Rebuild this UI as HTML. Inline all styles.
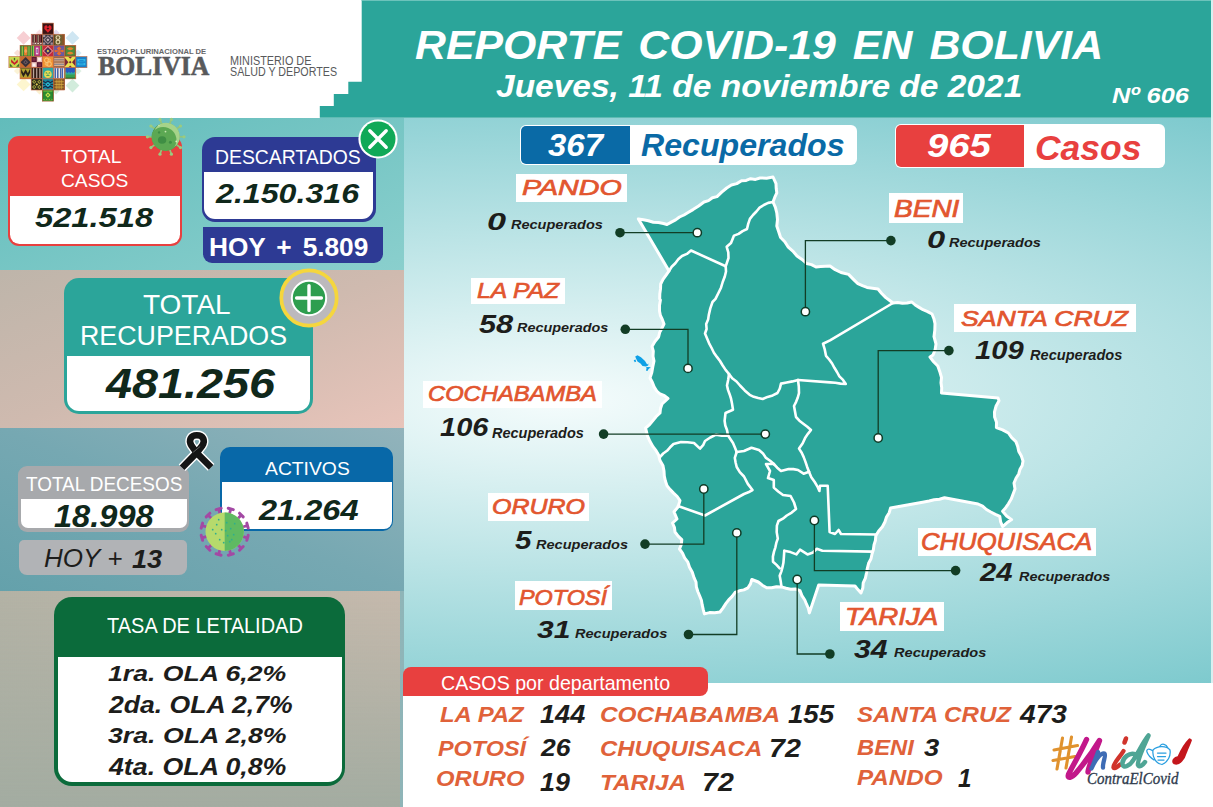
<!DOCTYPE html>
<html lang="es"><head><meta charset="utf-8"><title>Reporte COVID-19 en Bolivia</title>
<style>
html,body{margin:0;padding:0;overflow:hidden}
body{width:1213px;height:807px;position:relative;overflow:hidden;background:#fff;font-family:"Liberation Sans",sans-serif}
.a{position:absolute}
.t{position:absolute;white-space:pre;line-height:1;transform-origin:0 0}
.lbl{position:absolute;background:#fff}
</style></head><body>
<!-- left panel bands -->
<div class="a" style="left:0;top:117.7px;width:404px;height:152px;background:linear-gradient(to bottom right,rgb(98,188,187),rgb(138,207,205))"></div>
<div class="a" style="left:0;top:269.6px;width:404px;height:158.2px;background:linear-gradient(to bottom right,rgb(190,181,170),rgb(207,186,175) 50%,rgb(232,196,186))"></div>
<div class="a" style="left:0;top:427.7px;width:404px;height:379.3px;background:linear-gradient(to right,rgb(100,161,171),rgb(143,181,184))"></div>
<div class="a" style="left:0;top:427.7px;width:404px;height:163.8px;background:linear-gradient(to top right,rgb(100,161,171),rgb(118,168,178) 50%,rgb(146,179,187))"></div>
<div class="a" style="left:0;top:591.4px;width:400.2px;height:215.6px;background:linear-gradient(to bottom,rgba(163,172,161,0) 0%,rgba(163,172,161,1) 100%),linear-gradient(to right,rgb(179,178,165),rgb(197,185,172))"></div>
<!-- main panel -->
<div class="a" style="left:404px;top:117.5px;width:807px;height:565.5px;background:radial-gradient(ellipse 1170px 340px at 156px 282.5px,#f5fcfc 0%,#7ecace 100%)"></div>
<!-- bottom white -->
<div class="a" style="left:402.8px;top:682.5px;width:810.2px;height:124.5px;background:#fff"></div>
<div class="a" style="left:1211px;top:0;width:2px;height:682.5px;background:#d8f0f0"></div>
<!-- header -->
<svg class="a" style="left:0;top:0" width="1213" height="118" viewBox="0 0 1213 118"><path d="M361.7,0H1211V117.7H319.8V105.9H333.8V94H348.3V81.8H361.7Z" fill="#2ba59a"/><rect x="361.7" y="0" width="849.3" height="1" fill="#6cc3bb"/></svg>
<!-- banners -->
<div class="a" style="left:520.4px;top:125.4px;width:336.3px;height:40.1px;background:#fff;border-radius:6px"></div>
<div class="a" style="left:521.4px;top:126.4px;width:108.8px;height:38.1px;background:#0a6aa6;border-radius:5px 0 0 5px"></div>
<div class="a" style="left:895px;top:124.1px;width:269.7px;height:44.4px;background:#fff;border-radius:6px"></div>
<div class="a" style="left:896px;top:125.1px;width:127.6px;height:42.4px;background:#e8403f;border-radius:5px 0 0 5px"></div>
<!-- label boxes -->
<div class="lbl" style="left:515.8px;top:173.5px;width:111.5px;height:28px"></div>
<div class="lbl" style="left:471px;top:277.6px;width:93.8px;height:26.8px"></div>
<div class="lbl" style="left:423.4px;top:381px;width:178.4px;height:27px"></div>
<div class="lbl" style="left:488px;top:493.4px;width:100.5px;height:27.2px"></div>
<div class="lbl" style="left:514.5px;top:580.7px;width:97px;height:29.6px"></div>
<div class="lbl" style="left:889.2px;top:193px;width:74.2px;height:29.5px"></div>
<div class="lbl" style="left:953.7px;top:304.1px;width:182.3px;height:28.3px"></div>
<div class="lbl" style="left:918.2px;top:527.9px;width:177.6px;height:27.9px"></div>
<div class="lbl" style="left:839.8px;top:602px;width:103.9px;height:29.2px"></div>
<!-- red tab -->
<div class="a" style="left:402.8px;top:666.9px;width:305.4px;height:29.5px;background:#e8403f;border-radius:8px 8px 8px 0"></div>
<!-- MAP -->
<svg class="a" style="left:0;top:0" width="1213" height="807" viewBox="0 0 1213 807">
<polygon points="638.4,218.9 643.4,219.7 648.4,220.8 653.3,222.3 658.5,222.5 663.5,223.5 667.0,224.5 671.3,222.1 675.6,219.9 679.5,217.0 684.0,215.0 688.5,212.3 693.0,209.6 698.6,206.0 704.0,202.0 708.5,200.6 712.4,197.8 717.0,196.6 721.7,192.1 726.7,188.0 731.4,185.0 736.8,183.6 741.5,180.8 746.2,180.4 750.6,178.7 755.5,179.4 760.0,178.0 766.6,178.2 773.0,177.0 776.0,183.6 776.2,188.3 776.8,192.9 774.7,197.4 773.0,202.0 775.4,207.3 776.8,213.0 777.5,219.5 776.8,226.0 778.7,231.8 780.6,237.5 784.8,241.7 788.0,246.8 792.8,251.1 797.0,256.0 802.0,259.4 806.6,263.5 811.5,264.6 816.0,267.0 820.7,266.6 825.3,266.2 830.0,266.0 835.2,269.7 841.0,272.5 848.6,274.4 853.2,279.1 857.9,283.7 862.4,285.7 867.0,287.4 872.5,288.2 878.0,289.0 881.7,293.5 885.8,297.6 889.4,300.2 893.0,303.0 897.7,302.4 902.4,303.2 907.1,303.0 911.8,302.0 915.2,305.0 919.1,307.4 923.0,309.7 927.6,311.6 932.0,314.0 933.9,318.7 935.0,323.6 934.8,330.2 934.0,336.7 936.0,344.0 935.1,349.7 933.0,355.0 930.0,357.0 933.6,361.8 937.8,366.0 939.8,371.7 941.5,377.5 941.0,382.7 941.7,387.8 941.5,393.0 998.0,397.9 999.0,400.7 996.1,406.0 994.5,411.8 994.6,417.1 996.5,422.2 996.4,427.6 1002.6,429.9 1008.4,433.0 1011.7,437.7 1015.9,441.6 1017.7,446.4 1018.8,451.5 1021.4,456.1 1023.0,461.0 1022.2,465.5 1019.9,469.6 1018.7,474.0 1016.0,478.3 1014.0,483.0 1015.0,489.0 1013.1,494.1 1011.2,499.1 1008.4,503.8 1005.7,507.7 1002.6,511.3 1006.6,516.0 1011.6,519.6 1006.9,522.8 1002.6,526.6 1000.6,521.7 999.8,516.4 995.3,514.3 990.8,512.0 986.4,509.5 982.6,506.1 978.0,504.0 944.5,497.7 939.5,499.2 934.2,499.8 929.1,501.0 924.0,502.0 890.6,507.9 889.2,512.7 886.5,517.0 885.0,521.8 882.4,526.8 878.7,531.0 875.8,535.8 875.4,540.5 874.0,544.9 873.4,549.5 872.0,554.0 871.0,558.8 868.6,563.3 867.4,568.1 866.5,573.0 865.4,578.1 863.2,582.8 862.8,588.1 861.0,593.0 857.9,589.6 855.0,586.0 818.7,585.0 809.4,612.9 808.4,608.4 806.5,604.2 804.8,600.0 801.9,595.6 800.0,590.6 795.5,589.0 790.7,589.2 786.1,588.2 781.5,586.9 776.5,586.8 771.6,587.8 766.7,587.8 762.3,585.2 758.3,582.0 751.8,579.5 750.5,583.9 748.0,587.8 743.9,589.9 739.3,590.8 735.0,592.5 732.2,596.4 728.7,599.8 725.8,603.6 723.1,607.9 720.0,612.0 714.8,612.7 709.5,612.6 704.4,613.9 703.2,609.4 702.2,604.9 701.4,600.3 699.7,596.0 697.8,591.5 696.4,587.0 696.0,582.0 694.0,577.6 692.3,572.2 689.5,567.2 687.7,561.8 684.6,557.8 682.5,553.1 679.5,549.0 681.3,544.5 681.8,539.7 678.1,536.2 675.0,532.0 674.4,527.3 672.5,523.0 677.0,519.0 674.0,511.8 678.0,507.0 680.0,500.6 677.2,496.5 673.6,493.1 670.2,489.6 667.0,485.8 665.4,481.0 664.3,476.1 664.0,471.0 662.9,465.4 660.0,460.5 658.6,455.0 656.1,450.7 653.0,446.7 649.9,441.3 647.4,435.6 645.6,428.0 649.6,424.6 652.9,420.6 656.2,416.5 660.0,413.0 660.5,408.4 662.0,404.0 668.0,398.5 664.4,395.7 660.1,394.0 656.7,391.0 654.1,386.9 652.3,382.3 650.0,378.0 651.8,372.5 652.8,366.7 654.0,361.0 653.0,356.2 653.3,351.2 652.0,346.5 654.9,341.5 658.6,337.0 659.7,332.4 661.9,328.2 664.0,324.0 662.4,319.7 660.4,315.5 659.5,311.0 659.5,305.5 660.4,300.0 659.7,298.8 659.8,293.9 660.5,288.9 660.7,284.0 663.0,279.4 666.1,275.2 669.0,271.0" fill="#2ba59a" stroke="#fff" stroke-width="3.0" stroke-linejoin="round"/>
<polyline points="773.0,202.0 768.2,202.9 763.8,205.0 759.6,207.7 756.4,211.5 753.0,215.0 749.9,218.9 748.2,223.9 747.0,229.0 742.6,231.1 738.6,233.9 734.0,235.6 731.0,243.0 726.7,246.8 728.3,252.3 728.5,258.0 725.7,266.3" fill="none" stroke="#fff" stroke-width="2.6" stroke-linejoin="round" stroke-linecap="round"/>
<polyline points="725.7,266.3 691.0,250.5 686.9,253.9 682.0,256.0 678.3,259.3 675.3,263.3 671.7,266.8 669.0,271.0" fill="none" stroke="#fff" stroke-width="2.6" stroke-linejoin="round" stroke-linecap="round"/>
<polyline points="725.7,266.3 726.0,271.5 724.8,276.5 722.7,282.0 721.0,287.7 718.3,293.3 715.5,298.8 712.5,302.0 710.3,308.4 708.8,314.9 708.1,319.6 706.2,324.1 706.6,329.0 705.0,333.5 707.1,338.4 709.1,343.3 711.6,348.0 713.9,352.7 716.9,356.9 720.0,361.0 722.7,365.5 725.6,369.9 729.0,374.0" fill="none" stroke="#fff" stroke-width="2.6" stroke-linejoin="round" stroke-linecap="round"/>
<polyline points="729.0,374.0 732.2,378.3 736.5,381.5 740.0,385.5 744.7,390.4 749.7,394.8 753.8,396.8 758.2,398.1 762.7,399.0 767.6,396.9 772.7,395.4 777.5,393.0 779.8,388.5 781.0,383.6 786.7,382.5 792.4,381.4 798.0,380.0" fill="none" stroke="#fff" stroke-width="2.6" stroke-linejoin="round" stroke-linecap="round"/>
<polyline points="798.0,380.0 830.0,382.4 835.3,382.8 840.5,383.6 845.8,384.0 843.0,379.9 839.4,376.4 837.0,372.0 834.4,367.8 832.1,363.5 829.2,359.5 826.0,355.8 824.8,349.7 823.0,343.7 830.0,340.4 893.0,303.0" fill="none" stroke="#fff" stroke-width="2.6" stroke-linejoin="round" stroke-linecap="round"/>
<polyline points="729.0,374.0 728.2,379.8 727.0,385.5 728.0,389.9 729.6,394.2 731.0,398.5 732.1,404.1 733.0,409.7 725.5,413.0 724.6,420.8 725.3,425.5 727.0,430.0 728.0,435.6" fill="none" stroke="#fff" stroke-width="2.6" stroke-linejoin="round" stroke-linecap="round"/>
<polyline points="728.0,435.6 721.9,435.7 716.0,434.6 710.3,437.5 705.0,441.0 703.1,445.2 700.0,448.6 694.0,443.0 687.5,442.3 681.0,442.0 673.5,444.0 670.1,447.3 667.0,450.8 663.2,453.5 660.0,457.0" fill="none" stroke="#fff" stroke-width="2.6" stroke-linejoin="round" stroke-linecap="round"/>
<polyline points="728.0,435.6 733.0,443.0 734.9,447.5 736.7,452.0" fill="none" stroke="#fff" stroke-width="2.6" stroke-linejoin="round" stroke-linecap="round"/>
<polyline points="736.7,452.0 734.8,457.9 735.6,462.5 736.7,467.0 739.8,472.1 744.0,476.5 747.8,483.9 752.5,490.0 748.4,492.3 744.0,494.0 705.0,515.5 678.0,506.0" fill="none" stroke="#fff" stroke-width="2.6" stroke-linejoin="round" stroke-linecap="round"/>
<polyline points="736.7,452.0 744.0,451.0 751.5,447.7 759.0,450.0 763.0,453.5 766.0,457.9 770.1,460.7 773.8,464.0" fill="none" stroke="#fff" stroke-width="2.6" stroke-linejoin="round" stroke-linecap="round"/>
<polyline points="773.8,464.0 766.0,464.0 770.0,471.0 768.0,478.0 773.8,480.0 773.8,487.6 778.2,491.5 783.0,495.0 790.6,496.0 794.0,502.5 796.0,509.0 791.7,512.6 786.8,515.5 782.9,518.7 778.5,521.0 776.9,525.6 776.7,532.1 777.8,538.6 776.3,542.9 775.4,547.3 774.0,551.6 772.9,556.6 773.0,561.8 776.5,564.9 779.7,568.3" fill="none" stroke="#fff" stroke-width="2.6" stroke-linejoin="round" stroke-linecap="round"/>
<polyline points="773.8,464.0 777.2,467.7 781.0,471.0 788.7,469.0 793.4,469.1 798.0,470.0 803.6,473.7 809.0,471.8" fill="none" stroke="#fff" stroke-width="2.6" stroke-linejoin="round" stroke-linecap="round"/>
<polyline points="809.0,471.8 807.1,466.7 805.4,461.6 803.7,457.1 801.7,452.7 799.0,448.6 802.7,443.3 805.4,437.4 808.1,433.6 811.0,430.0 807.3,426.7 803.3,423.7 799.4,420.7 796.0,417.0 795.0,411.5 794.0,406.0 796.1,401.8 797.8,397.5 799.0,393.0 798.8,386.5 798.0,380.0" fill="none" stroke="#fff" stroke-width="2.6" stroke-linejoin="round" stroke-linecap="round"/>
<polyline points="809.0,471.8 811.3,477.2 814.7,482.0 817.3,486.3 819.4,491.0 820.0,485.8 827.7,485.8 829.6,532.0 835.0,534.0 838.6,530.0 841.0,534.0 876.0,534.5" fill="none" stroke="#fff" stroke-width="2.6" stroke-linejoin="round" stroke-linecap="round"/>
<polyline points="784.3,550.7 790.5,552.1 796.4,554.4 800.0,549.7 807.5,554.4 813.0,552.5 816.8,548.8 822.4,550.7 872.5,551.6" fill="none" stroke="#fff" stroke-width="2.6" stroke-linejoin="round" stroke-linecap="round"/>
<polyline points="784.3,550.7 783.9,556.8 783.4,562.8 782.5,567.2 781.3,571.6 779.7,575.8 780.7,581.3 781.5,586.9" fill="none" stroke="#fff" stroke-width="2.6" stroke-linejoin="round" stroke-linecap="round"/>
<path d="M635.2,356.6 L637.5,355.3 L641,357.2 L645,361 L647.2,364.4 L648.4,363.6 L648.2,365.4 L646,366.4 L642.5,366 L640.5,363.6 L637.5,361.6 L636,358.6 Z M633.7,360.2 L635.4,359.4 L636.2,361.4 L634.8,362.2 Z M645.8,367.6 L647.6,366.9 L650.8,367.3 L648.6,369 L647.4,370.9 L645.9,370.4 L646.6,368.6 Z" fill="#0fa0e6"/>
<polyline points="620.0,232.7 697.3,232.7" fill="none" stroke="#123d25" stroke-width="1.3"/>
<circle cx="620" cy="232.7" r="4.8" fill="#123d25"/>
<circle cx="697.3" cy="232.7" r="4.15" fill="#fff" stroke="#0f3b27" stroke-width="1.5"/>
<polyline points="625.3,329.3 688.0,329.3 688.0,368.4" fill="none" stroke="#123d25" stroke-width="1.3"/>
<circle cx="625.3" cy="329.3" r="4.8" fill="#123d25"/>
<circle cx="688" cy="368.4" r="4.15" fill="#fff" stroke="#0f3b27" stroke-width="1.5"/>
<polyline points="603.6,434.1 765.3,434.1" fill="none" stroke="#123d25" stroke-width="1.3"/>
<circle cx="603.6" cy="434.1" r="4.8" fill="#123d25"/>
<circle cx="765.3" cy="434.1" r="4.15" fill="#fff" stroke="#0f3b27" stroke-width="1.5"/>
<polyline points="645.0,544.1 703.8,544.1 703.8,489.0" fill="none" stroke="#123d25" stroke-width="1.3"/>
<circle cx="645" cy="544.1" r="4.8" fill="#123d25"/>
<circle cx="703.8" cy="489" r="4.15" fill="#fff" stroke="#0f3b27" stroke-width="1.5"/>
<polyline points="688.5,634.5 736.8,634.5 736.8,532.9" fill="none" stroke="#123d25" stroke-width="1.3"/>
<circle cx="688.5" cy="634.5" r="4.8" fill="#123d25"/>
<circle cx="736.8" cy="532.9" r="4.15" fill="#fff" stroke="#0f3b27" stroke-width="1.5"/>
<polyline points="890.9,240.6 805.4,240.6 805.4,311.7" fill="none" stroke="#123d25" stroke-width="1.3"/>
<circle cx="890.9" cy="240.6" r="4.8" fill="#123d25"/>
<circle cx="805.4" cy="311.7" r="4.15" fill="#fff" stroke="#0f3b27" stroke-width="1.5"/>
<polyline points="948.9,350.6 878.2,350.6 878.2,438.0" fill="none" stroke="#123d25" stroke-width="1.3"/>
<circle cx="948.9" cy="350.6" r="4.8" fill="#123d25"/>
<circle cx="878.2" cy="438" r="4.15" fill="#fff" stroke="#0f3b27" stroke-width="1.5"/>
<polyline points="955.6,570.6 814.4,570.6 814.4,520.5" fill="none" stroke="#123d25" stroke-width="1.3"/>
<circle cx="955.6" cy="570.6" r="4.8" fill="#123d25"/>
<circle cx="814.4" cy="520.5" r="4.15" fill="#fff" stroke="#0f3b27" stroke-width="1.5"/>
<polyline points="829.9,654.0 797.2,654.0 797.2,579.5" fill="none" stroke="#123d25" stroke-width="1.3"/>
<circle cx="829.9" cy="654" r="4.8" fill="#123d25"/>
<circle cx="797.2" cy="579.5" r="4.15" fill="#fff" stroke="#0f3b27" stroke-width="1.5"/>
</svg>
<!-- LEFT BOXES -->
<!-- total casos -->
<div class="a" style="left:7.9px;top:135.8px;width:174.5px;height:110px;background:#e8403f;border-radius:11px"></div>
<div class="a" style="left:9.9px;top:195.6px;width:170.5px;height:48.2px;background:#fff;border-radius:0 0 9.5px 9.5px"></div>
<!-- descartados -->
<div class="a" style="left:201.5px;top:137.1px;width:174.4px;height:84.6px;background:#2d3a94;border-radius:13px"></div>
<div class="a" style="left:204.2px;top:171.6px;width:168.8px;height:47.7px;background:#fff;border-radius:0 0 11px 11px"></div>
<div class="a" style="left:203px;top:227.3px;width:180.3px;height:36.2px;background:#2d3a94;border-radius:0 0 9px 9px"></div>
<!-- total recuperados -->
<div class="a" style="left:64px;top:278px;width:248.7px;height:136.3px;background:#2ba59a;border-radius:15px"></div>
<div class="a" style="left:66.5px;top:355.6px;width:243.9px;height:55.2px;background:#fff;border-radius:0 0 12px 12px"></div>
<!-- decesos -->
<div class="a" style="left:18.2px;top:466.3px;width:171px;height:65.3px;background:#a7a9ac;border-radius:9px"></div>
<div class="a" style="left:20.6px;top:498.6px;width:166.9px;height:29.8px;background:#fff;border-radius:0 0 7px 7px"></div>
<div class="a" style="left:18.6px;top:539.7px;width:168.2px;height:35.5px;background:#b1b3b6;border-radius:5px 5px 8px 8px"></div>
<!-- activos -->
<div class="a" style="left:219.8px;top:447px;width:173.5px;height:83.7px;background:#0868a8;border-radius:10px"></div>
<div class="a" style="left:222.2px;top:481.6px;width:170.2px;height:47px;background:#fff;border-radius:0 0 8px 8px"></div>
<!-- tasa -->
<div class="a" style="left:54px;top:596.9px;width:291.4px;height:189.1px;background:#0b6b3b;border-radius:18px"></div>
<div class="a" style="left:57.5px;top:657px;width:284px;height:125px;background:#fff;border-radius:0 0 14px 14px"></div>
<!-- ICONS -->
<svg class="a" style="left:0;top:0" width="100" height="117" viewBox="0 0 100 117">
<path d="M23.6,31.0L30.5,37.9L23.6,44.8L16.700000000000003,37.9Z" fill="#f7cfd3"/>
<path d="M72.5,31.0L79.4,37.9L72.5,44.8L65.6,37.9Z" fill="#cfe6f2"/>
<path d="M23.6,77.5L30.5,84.4L23.6,91.30000000000001L16.700000000000003,84.4Z" fill="#fdf6cf"/>
<path d="M72.5,78.69999999999999L79.4,85.6L72.5,92.5L65.6,85.6Z" fill="#d2ecdc"/>
<path d="M39.5,29.4L43.1,33L39.5,36.6L35.9,33Z" fill="#f9dfe3"/>
<path d="M56,29.4L59.6,33L56,36.6L52.4,33Z" fill="#e6dcf0"/>
<path d="M17.5,49.4L21.1,53L17.5,56.6L13.9,53Z" fill="#f9e0d8"/>
<path d="M78,49.4L81.6,53L78,56.6L74.4,53Z" fill="#d8ecf5"/>
<path d="M17.5,67.4L21.1,71L17.5,74.6L13.9,71Z" fill="#fbf3d6"/>
<path d="M78,67.4L81.6,71L78,74.6L74.4,71Z" fill="#dff0e4"/>
<path d="M39.5,87.4L43.1,91L39.5,94.6L35.9,91Z" fill="#fbf0d0"/>
<path d="M56,87.4L59.6,91L56,94.6L52.4,91Z" fill="#dcefe0"/>
<g transform="translate(42.35,23.10) scale(11.15)"><rect width="1" height="1" fill="#3a1414"/><path d="M.5,.86L.18,.52L.18,.3L.34,.18L.5,.36L.66,.18L.82,.3L.82,.52Z" fill="#e0222c"/><path d="M.5,.6L.38,.46L.5,.4L.62,.46Z" fill="#3a1414"/><rect width="1" height="1" fill="none" stroke="#c46a44" stroke-width="0.055"/></g>
<g transform="translate(31.20,34.25) scale(11.15)"><rect width="1" height="1" fill="#5e2622"/><rect x="0" y="0" width="0.1" height="1" fill="#d986ac"/><rect x="0.14" y="0.08" width="0.094" height="0.62" fill="#2a1410"/><rect x="0.229" y="0.08" width="0.094" height="0.62" fill="#e8d2b4"/><rect x="0.318" y="0.08" width="0.094" height="0.62" fill="#2a1410"/><rect x="0.407" y="0.08" width="0.094" height="0.62" fill="#c24a5a"/><rect x="0.496" y="0.08" width="0.094" height="0.62" fill="#2a1410"/><rect x="0.584" y="0.08" width="0.094" height="0.62" fill="#e8d2b4"/><rect x="0.673" y="0.08" width="0.094" height="0.62" fill="#2a1410"/><rect x="0.762" y="0.08" width="0.094" height="0.62" fill="#c24a5a"/><rect x="0.851" y="0.08" width="0.094" height="0.62" fill="#2a1410"/><rect x="0.14" y="0.76" width="0.8" height="0.14" fill="#e8dcd0"/><rect x="0.2" y="0.79" width="0.1" height="0.08" fill="#5e2622"/><rect x="0.45" y="0.79" width="0.1" height="0.08" fill="#5e2622"/><rect x="0.7" y="0.79" width="0.1" height="0.08" fill="#5e2622"/><rect width="1" height="1" fill="none" stroke="#c46a44" stroke-width="0.055"/></g>
<g transform="translate(42.35,34.25) scale(11.15)"><rect width="1" height="1" fill="#3b3741"/><path d="M0.5,0.08000000000000002L0.9199999999999999,0.5L0.5,0.9199999999999999L0.08000000000000002,0.5Z" fill="#a58f98"/><path d="M0.5,0.21999999999999997L0.78,0.5L0.5,0.78L0.21999999999999997,0.5Z" fill="#3b3741"/><path d="M0.5,0.36L0.64,0.5L0.5,0.64L0.36,0.5Z" fill="#c9b3ba"/><rect x="0.06" y="0.06" width="0.2" height="0.2" fill="#a58f98"/><rect x="0.74" y="0.06" width="0.2" height="0.2" fill="#a58f98"/><rect x="0.06" y="0.74" width="0.2" height="0.2" fill="#a58f98"/><rect x="0.74" y="0.74" width="0.2" height="0.2" fill="#a58f98"/><rect width="1" height="1" fill="none" stroke="#c46a44" stroke-width="0.055"/></g>
<g transform="translate(53.50,34.25) scale(11.15)"><rect width="1" height="1" fill="#6e6030"/><rect x="0.78" y="0" width="0.22" height="1" fill="#8a5428"/><circle cx="0.4" cy="0.3" r="0.17" fill="none" stroke="#e3d3ab" stroke-width="0.1"/><circle cx="0.4" cy="0.7" r="0.17" fill="none" stroke="#e3d3ab" stroke-width="0.1"/><rect x="0" y="0" width="0.08" height="1" fill="#3c2a18"/><rect width="1" height="1" fill="none" stroke="#c46a44" stroke-width="0.055"/></g>
<g transform="translate(20.05,45.40) scale(11.15)"><rect width="1" height="1" fill="#3c8c3c"/><rect x="0.0" y="0" width="0.085" height="1" fill="#2c6c2c"/><rect x="0.08" y="0" width="0.085" height="1" fill="#3c8c3c"/><rect x="0.16" y="0" width="0.085" height="1" fill="#e8d84c"/><rect x="0.24" y="0" width="0.085" height="1" fill="#3c8c3c"/><rect x="0.36" y="0.08" width="0.3" height="0.84" fill="#e87c2c"/><path d="M.36,.5L.51,.3L.66,.5L.51,.7Z" fill="#f4a45c"/><rect x="0.7" y="0" width="0.08" height="1" fill="#3c8c3c"/><rect x="0.775" y="0" width="0.08" height="1" fill="#e8d84c"/><rect x="0.85" y="0" width="0.08" height="1" fill="#3c8c3c"/><rect x="0.925" y="0" width="0.08" height="1" fill="#2c6c2c"/><rect x="0" y="0" width="1" height="0.07" fill="#2c6c2c"/><rect x="0" y="0.93" width="1" height="0.07" fill="#2c6c2c"/><rect width="1" height="1" fill="none" stroke="#c46a44" stroke-width="0.055"/></g>
<g transform="translate(31.20,45.40) scale(11.15)"><rect width="1" height="1" fill="#2e8b3c"/><rect x="0.0" y="0" width="0.085" height="1" fill="#9ad04c"/><rect x="0.08" y="0" width="0.085" height="1" fill="#2e8b3c"/><rect x="0.16" y="0" width="0.085" height="1" fill="#9ad04c"/><rect x="0.28" y="0.06" width="0.5" height="0.88" fill="#c0307c"/><rect x="0.42" y="0.2" width="0.22" height="0.6" fill="#f2e6ea"/><rect x="0.48" y="0.3" width="0.1" height="0.4" fill="#7c2c8c"/><rect x="0.82" y="0" width="0.095" height="1" fill="#9ad04c"/><rect x="0.91" y="0" width="0.095" height="1" fill="#2e8b3c"/><rect width="1" height="1" fill="none" stroke="#c46a44" stroke-width="0.055"/></g>
<g transform="translate(42.35,45.40) scale(11.15)"><rect width="1" height="1" fill="#c42a3a"/><path d="M0.5,0.03999999999999998L0.96,0.5L0.5,0.96L0.03999999999999998,0.5Z" fill="#e8a4ac"/><path d="M0.5,0.14L0.86,0.5L0.5,0.86L0.14,0.5Z" fill="#8a1c2c"/><path d="M0.5,0.22999999999999998L0.77,0.5L0.5,0.77L0.22999999999999998,0.5Z" fill="#2c306c"/><path d="M0.5,0.37L0.63,0.5L0.5,0.63L0.37,0.5Z" fill="#e8c84c"/><rect width="1" height="1" fill="none" stroke="#c46a44" stroke-width="0.055"/></g>
<g transform="translate(53.50,45.40) scale(11.15)"><rect width="1" height="1" fill="#6c58a0"/><path d="M0.5,0.08000000000000002L0.7,0.28L0.5,0.48000000000000004L0.3,0.28Z" fill="#e86c2c"/><path d="M0.5,0.52L0.7,0.72L0.5,0.9199999999999999L0.3,0.72Z" fill="#e86c2c"/><rect x="0.12" y="0.44" width="0.76" height="0.12" fill="#e86c2c"/><path d="M0.2,0.36L0.34,0.5L0.2,0.64L0.06,0.5Z" fill="#e86c2c"/><path d="M0.8,0.36L0.9400000000000001,0.5L0.8,0.64L0.66,0.5Z" fill="#e86c2c"/><rect x="0" y="0" width="1" height="0.06" fill="#3c3470"/><rect x="0" y="0.94" width="1" height="0.06" fill="#3c3470"/><rect width="1" height="1" fill="none" stroke="#c46a44" stroke-width="0.055"/></g>
<g transform="translate(64.65,45.40) scale(11.15)"><rect width="1" height="1" fill="#4c8c3c"/><rect x="0" y="0" width="1" height="0.09" fill="#8a4c28"/><rect x="0" y="0.91" width="1" height="0.09" fill="#8a4c28"/><rect x="0" y="0" width="0.09" height="1" fill="#8a4c28"/><rect x="0.91" y="0" width="0.09" height="1" fill="#8a4c28"/><path d="M.2,.3 Q.5,.05 .8,.3 Q.5,.55 .2,.3Z" fill="#e8842c"/><path d="M.2,.7 Q.5,.45 .8,.7 Q.5,.95 .2,.7Z" fill="#e8842c"/><rect width="1" height="1" fill="none" stroke="#c46a44" stroke-width="0.055"/></g>
<g transform="translate(8.90,56.55) scale(11.15)"><rect width="1" height="1" fill="#c8d850"/><path d="M.5,.55L.2,.25L.2,.5L.35,.62L.5,.75L.65,.62L.8,.5L.8,.25Z" fill="#c8202c"/><path d="M.08,.92L.08,.62L.36,.92Z" fill="#3c6c2c"/><path d="M.92,.92L.92,.62L.64,.92Z" fill="#3c6c2c"/><rect x="0.44" y="0.12" width="0.12" height="0.22" fill="#3c6c2c"/><rect width="1" height="1" fill="none" stroke="#c46a44" stroke-width="0.055"/></g>
<g transform="translate(20.05,56.55) scale(11.15)"><rect width="1" height="1" fill="#c86c2c"/><path d="M0.5,0.03999999999999998L0.96,0.5L0.5,0.96L0.03999999999999998,0.5Z" fill="#38303a"/><path d="M0.5,0.28L0.72,0.5L0.5,0.72L0.28,0.5Z" fill="#6a5a62"/><path d="M0.5,0.4L0.6,0.5L0.5,0.6L0.4,0.5Z" fill="#38303a"/><rect width="1" height="1" fill="none" stroke="#c46a44" stroke-width="0.055"/></g>
<g transform="translate(31.20,56.55) scale(11.15)"><rect width="1" height="1" fill="#5a1830"/><rect x="0.5" y="0" width="0.5" height="0.5" fill="#ecc0ba"/><rect x="0" y="0.5" width="0.5" height="0.5" fill="#ecc0ba"/><rect x="0.62" y="0.12" width="0.26" height="0.26" fill="#fbf2f0"/><rect x="0.12" y="0.62" width="0.26" height="0.26" fill="#fbf2f0"/><rect x="0.12" y="0.12" width="0.26" height="0.26" fill="#7c2a44"/><rect x="0.62" y="0.62" width="0.26" height="0.26" fill="#7c2a44"/><rect width="1" height="1" fill="none" stroke="#c46a44" stroke-width="0.055"/></g>
<g transform="translate(42.35,56.55) scale(11.15)"><rect width="1" height="1" fill="#f09030"/><circle cx="0.4" cy="0.34" r="0.2" fill="none" stroke="#f9c474" stroke-width="0.09"/><circle cx="0.6" cy="0.66" r="0.2" fill="none" stroke="#f9c474" stroke-width="0.09"/><circle cx="0.62" cy="0.34" r="0.13" fill="none" stroke="#f9c474" stroke-width="0.07"/><circle cx="0.38" cy="0.66" r="0.13" fill="none" stroke="#f9c474" stroke-width="0.07"/><rect width="1" height="1" fill="none" stroke="#c46a44" stroke-width="0.055"/></g>
<g transform="translate(53.50,56.55) scale(11.15)"><rect width="1" height="1" fill="#9a6a48"/><rect x="0.06" y="0.04" width="0.88" height="0.107" fill="#9a6a48"/><rect x="0.06" y="0.142" width="0.88" height="0.107" fill="#dcae90"/><rect x="0.06" y="0.244" width="0.88" height="0.107" fill="#8a8a92"/><rect x="0.06" y="0.347" width="0.88" height="0.107" fill="#dcae90"/><rect x="0.06" y="0.449" width="0.88" height="0.107" fill="#9a6a48"/><rect x="0.06" y="0.551" width="0.88" height="0.107" fill="#dcae90"/><rect x="0.06" y="0.653" width="0.88" height="0.107" fill="#8a8a92"/><rect x="0.06" y="0.756" width="0.88" height="0.107" fill="#dcae90"/><rect x="0.06" y="0.858" width="0.88" height="0.107" fill="#9a6a48"/><rect width="1" height="1" fill="none" stroke="#c46a44" stroke-width="0.055"/></g>
<g transform="translate(64.65,56.55) scale(11.15)"><rect width="1" height="1" fill="#e8e050"/><path d="M0,.08L.34,.5L0,.92Z" fill="#7a2838"/><path d="M1,.08L.66,.5L1,.92Z" fill="#7a2838"/><path d="M0.5,0.38L0.62,0.5L0.5,0.62L0.38,0.5Z" fill="#7a2838"/><path d="M.3,0L.5,.2L.7,0Z" fill="#7a2838"/><path d="M.3,1L.5,.8L.7,1Z" fill="#7a2838"/><rect width="1" height="1" fill="none" stroke="#c46a44" stroke-width="0.055"/></g>
<g transform="translate(75.80,56.55) scale(11.15)"><rect width="1" height="1" fill="#1a80c8"/><rect x="0.14" y="0.22" width="0.72" height="0.56" fill="#30b8e8"/><rect x="0.14" y="0.44" width="0.72" height="0.12" fill="#1a80c8"/><rect x="0.3" y="0.3" width="0.4" height="0.08" fill="#1a80c8"/><rect x="0.3" y="0.62" width="0.4" height="0.08" fill="#1a80c8"/><rect width="1" height="1" fill="none" stroke="#c46a44" stroke-width="0.055"/></g>
<g transform="translate(20.05,67.70) scale(11.15)"><rect width="1" height="1" fill="#b0a030"/><path d="M.1,.1L.3,.5L.5,.15L.7,.5L.9,.1L.9,.45L.7,.85L.5,.5L.3,.85L.1,.45Z" fill="#2a2018"/><rect x="0" y="0.88" width="1" height="0.12" fill="#d8742c"/><rect x="0" y="0" width="1" height="0.06" fill="#2a2018"/><rect width="1" height="1" fill="none" stroke="#c46a44" stroke-width="0.055"/></g>
<g transform="translate(31.20,67.70) scale(11.15)"><rect width="1" height="1" fill="#4a2a20"/><path d="M.22,.06V.94M.5,.06V.94M.78,.06V.94" fill="none" stroke="#cbbab2" stroke-width="0.09"/><path d="M.36,.06V.94M.64,.06V.94" fill="none" stroke="#201210" stroke-width="0.07"/><rect width="1" height="1" fill="none" stroke="#c46a44" stroke-width="0.055"/></g>
<g transform="translate(42.35,67.70) scale(11.15)"><rect width="1" height="1" fill="#30a8a0"/><circle cx="0.5" cy="0.58" r="0.34" fill="#e8d850"/><rect x="0.16" y="0.0" width="0.68" height="0.2" fill="#30a8a0"/><rect x="0.3" y="0.42" width="0.12" height="0.1" fill="#38a050"/><rect x="0.58" y="0.42" width="0.12" height="0.1" fill="#38a050"/><rect x="0.36" y="0.66" width="0.28" height="0.08" fill="#38a050"/><rect x="0.46" y="0.5" width="0.08" height="0.14" fill="#30a8a0"/><rect width="1" height="1" fill="none" stroke="#c46a44" stroke-width="0.055"/></g>
<g transform="translate(53.50,67.70) scale(11.15)"><rect width="1" height="1" fill="#a0a0b0"/><rect x="0.05" y="0.06" width="0.095" height="0.88" fill="#a0a0b0"/><rect x="0.14" y="0.06" width="0.095" height="0.88" fill="#4060b0"/><rect x="0.23" y="0.06" width="0.095" height="0.88" fill="#ececf4"/><rect x="0.32" y="0.06" width="0.095" height="0.88" fill="#4060b0"/><rect x="0.41" y="0.06" width="0.095" height="0.88" fill="#a0a0b0"/><rect x="0.5" y="0.06" width="0.095" height="0.88" fill="#ececf4"/><rect x="0.59" y="0.06" width="0.095" height="0.88" fill="#4060b0"/><rect x="0.68" y="0.06" width="0.095" height="0.88" fill="#a0a0b0"/><rect x="0.77" y="0.06" width="0.095" height="0.88" fill="#4060b0"/><rect x="0.86" y="0.06" width="0.095" height="0.88" fill="#ececf4"/><rect width="1" height="1" fill="none" stroke="#c46a44" stroke-width="0.055"/></g>
<g transform="translate(64.65,67.70) scale(11.15)"><rect width="1" height="1" fill="#2858c0"/><rect x="0" y="0.5" width="1" height="0.5" fill="#38a050"/><path d="M0,.5L.125,.36L.25,.5L.375,.36L.5,.5L.625,.36L.75,.5L.875,.36L1,.5L1,.62L0,.62Z" fill="#30a8a0"/><rect x="0" y="0.86" width="1" height="0.14" fill="#2c7c3c"/><rect x="0" y="0" width="0.08" height="1" fill="#c48a3c"/><rect x="0.92" y="0" width="0.08" height="1" fill="#c48a3c"/><rect width="1" height="1" fill="none" stroke="#c46a44" stroke-width="0.055"/></g>
<g transform="translate(31.20,78.85) scale(11.15)"><rect width="1" height="1" fill="#2a2818"/><path d="M0.27,0.07L0.47000000000000003,0.27L0.27,0.47000000000000003L0.07,0.27Z" fill="#a0a040"/><path d="M0.73,0.07L0.9299999999999999,0.27L0.73,0.47000000000000003L0.53,0.27Z" fill="#a0a040"/><path d="M0.27,0.53L0.47000000000000003,0.73L0.27,0.9299999999999999L0.07,0.73Z" fill="#a0a040"/><path d="M0.73,0.53L0.9299999999999999,0.73L0.73,0.9299999999999999L0.53,0.73Z" fill="#a0a040"/><path d="M0.5,0.38L0.62,0.5L0.5,0.62L0.38,0.5Z" fill="#d8c850"/><path d="M0.27,0.19L0.35000000000000003,0.27L0.27,0.35000000000000003L0.19,0.27Z" fill="#2a2818"/><path d="M0.73,0.19L0.8099999999999999,0.27L0.73,0.35000000000000003L0.65,0.27Z" fill="#2a2818"/><path d="M0.27,0.65L0.35000000000000003,0.73L0.27,0.8099999999999999L0.19,0.73Z" fill="#2a2818"/><path d="M0.73,0.65L0.8099999999999999,0.73L0.73,0.8099999999999999L0.65,0.73Z" fill="#2a2818"/><rect width="1" height="1" fill="none" stroke="#c46a44" stroke-width="0.055"/></g>
<g transform="translate(42.35,78.85) scale(11.15)"><rect width="1" height="1" fill="#1888a0"/><path d="M.06,.2L.28,.34L.5,.2L.72,.34L.94,.2M.06,.8L.28,.66L.5,.8L.72,.66L.94,.8" fill="none" stroke="#182848" stroke-width="0.1"/><path d="M0.5,0.3L0.7,0.5L0.5,0.7L0.3,0.5Z" fill="#30c8e0"/><path d="M0.5,0.41000000000000003L0.59,0.5L0.5,0.59L0.41000000000000003,0.5Z" fill="#182848"/><rect x="0" y="0.46" width="0.26" height="0.08" fill="#182848"/><rect x="0.74" y="0.46" width="0.26" height="0.08" fill="#182848"/><rect width="1" height="1" fill="none" stroke="#c46a44" stroke-width="0.055"/></g>
<g transform="translate(53.50,78.85) scale(11.15)"><rect width="1" height="1" fill="#8a5a28"/><path d="M.06,.26H.94M.06,.5H.94M.06,.74H.94" fill="none" stroke="#d8b040" stroke-width="0.07"/><path d="M.3,.06V.94M.5,.06V.94M.7,.06V.94" fill="none" stroke="#d8b040" stroke-width="0.06"/><rect x="0" y="0" width="0.07" height="1" fill="#5a3418"/><rect x="0.93" y="0" width="0.07" height="1" fill="#5a3418"/><rect width="1" height="1" fill="none" stroke="#c46a44" stroke-width="0.055"/></g>
<g transform="translate(42.35,90.00) scale(11.15)"><rect width="1" height="1" fill="#2a8a30"/><path d="M0.5,0.21000000000000002L0.74,0.45L0.5,0.69L0.26,0.45Z" fill="#c8e04c"/><path d="M0.5,0.35L0.6,0.45L0.5,0.55L0.4,0.45Z" fill="#2a8a30"/><rect x="0.08" y="0.06" width="0.84" height="0.08" fill="#7ac83c"/><rect x="0.08" y="0.8" width="0.84" height="0.12" fill="#7ac83c"/><rect x="0.2" y="0.83" width="0.14" height="0.06" fill="#1c5c24"/><rect x="0.44" y="0.83" width="0.14" height="0.06" fill="#1c5c24"/><rect x="0.68" y="0.83" width="0.14" height="0.06" fill="#1c5c24"/><rect x="0" y="0" width="0.07" height="1" fill="#1c5c24"/><rect x="0.93" y="0" width="0.07" height="1" fill="#1c5c24"/><rect width="1" height="1" fill="none" stroke="#c46a44" stroke-width="0.055"/></g>
</svg>
<svg class="a" style="left:140px;top:112px" width="52" height="52" viewBox="140 112 52 52">
<line x1="169.7" y1="124.3" x2="171.4" y2="119.4" stroke="#94c47c" stroke-width="1.7"/>
<circle cx="171.4" cy="119.4" r="1.6" fill="#9bcb80"/>
<line x1="176.3" y1="129.1" x2="180.5" y2="126.0" stroke="#94c47c" stroke-width="1.7"/>
<circle cx="180.5" cy="126.0" r="1.6" fill="#9bcb80"/>
<line x1="178.8" y1="136.8" x2="184.0" y2="136.8" stroke="#94c47c" stroke-width="1.7"/>
<circle cx="184.0" cy="136.8" r="1.6" fill="#9bcb80"/>
<line x1="176.3" y1="144.5" x2="180.5" y2="147.6" stroke="#94c47c" stroke-width="1.7"/>
<circle cx="180.5" cy="147.6" r="1.6" fill="#9bcb80"/>
<line x1="169.7" y1="149.3" x2="171.4" y2="154.2" stroke="#94c47c" stroke-width="1.7"/>
<circle cx="171.4" cy="154.2" r="1.6" fill="#9bcb80"/>
<line x1="161.7" y1="149.3" x2="160.0" y2="154.2" stroke="#94c47c" stroke-width="1.7"/>
<circle cx="160.0" cy="154.2" r="1.6" fill="#9bcb80"/>
<line x1="155.1" y1="144.5" x2="150.9" y2="147.6" stroke="#94c47c" stroke-width="1.7"/>
<circle cx="150.9" cy="147.6" r="1.6" fill="#9bcb80"/>
<line x1="152.6" y1="136.8" x2="147.4" y2="136.8" stroke="#94c47c" stroke-width="1.7"/>
<circle cx="147.4" cy="136.8" r="1.6" fill="#9bcb80"/>
<line x1="155.1" y1="129.1" x2="150.9" y2="126.0" stroke="#94c47c" stroke-width="1.7"/>
<circle cx="150.9" cy="126.0" r="1.6" fill="#9bcb80"/>
<line x1="161.7" y1="124.3" x2="160.0" y2="119.4" stroke="#94c47c" stroke-width="1.7"/>
<circle cx="160.0" cy="119.4" r="1.6" fill="#9bcb80"/>
<clipPath id="vb"><circle cx="165.7" cy="136.8" r="14.1"/></clipPath><g clip-path="url(#vb)"><circle cx="165.7" cy="136.8" r="14.1" fill="#4b9949"/><circle cx="166.89999999999998" cy="135.60000000000002" r="13.5" fill="#a6d38a"/><circle cx="163.1" cy="140.20000000000002" r="13.299999999999999" fill="#5ca853"/></g>
<ellipse cx="162.1" cy="140.0" rx="4.2" ry="3.8" fill="#3f8e44"/>
<circle cx="170.39999999999998" cy="142.20000000000002" r="1.5" fill="#3f8e44"/><circle cx="159.1" cy="132.4" r="1.2" fill="#3f8e44"/>
<circle cx="165.5" cy="131.60000000000002" r="0.9" fill="#c8e8b0"/><circle cx="176.29999999999998" cy="141.4" r="0.9" fill="#d8f0c0"/><circle cx="158.89999999999998" cy="125.60000000000001" r="0.8" fill="#c8e8b0"/>
</svg>
<svg class="a" style="left:356px;top:116.8px" width="44" height="44" viewBox="-22 -22 44 44"><circle r="19.6" fill="#fff"/><circle r="17.5" fill="#10a958"/><path d="M-8.2,-8.2L8.2,8.2M8.2,-8.2L-8.2,8.2" stroke="#fff" stroke-width="3.4" stroke-linecap="round"/></svg>
<svg class="a" style="left:279.1px;top:268.1px" width="60" height="60" viewBox="-30 -30 60 60"><circle r="27.7" fill="#bcb9bd" stroke="#f5d63d" stroke-width="3.7"/><circle r="17.2" fill="#2e9e4f" stroke="#fff" stroke-width="2"/><path d="M-12.4,0H12.4M0,-12.4V12.4" stroke="#fff" stroke-width="3.4" stroke-linecap="round"/></svg>
<svg class="a" style="left:172px;top:426px" width="50" height="50" viewBox="172 426 50 50"><g fill="none" stroke-linecap="butt" stroke-linejoin="round">
<path d="M182.1,467.8 L196.6,452.9 L202.3,445.6 C205.6,440.6 203.2,435.3 196.9,435.3 C190.6,435.3 188.2,440.6 191.5,445.6 L196.6,452.9 L211.1,467.4" stroke="#fff" stroke-width="9.4"/>
<path d="M182.1,467.8 L196.6,452.9 L202.3,445.6 C205.6,440.6 203.2,435.3 196.9,435.3 C190.6,435.3 188.2,440.6 191.5,445.6 L196.6,452.9 L211.1,467.4" stroke="#151515" stroke-width="6.6"/>
<path d="M193.2,452.2 L200.2,446.4" stroke="#666" stroke-width="0.9"/>
</g></svg>
<svg class="a" style="left:195px;top:502px" width="60" height="60" viewBox="195 502 60 60">
<line x1="229.4" y1="514.1" x2="230.8" y2="508.9" stroke="#a349a4" stroke-width="2.8"/>
<line x1="228.3" y1="508.2" x2="233.3" y2="509.6" stroke="#a349a4" stroke-width="3" stroke-linecap="round"/>
<line x1="237.6" y1="518.8" x2="241.4" y2="515.0" stroke="#a349a4" stroke-width="2.8"/>
<line x1="239.5" y1="513.2" x2="243.2" y2="516.9" stroke="#a349a4" stroke-width="3" stroke-linecap="round"/>
<line x1="242.3" y1="527.0" x2="247.5" y2="525.6" stroke="#a349a4" stroke-width="2.8"/>
<line x1="246.8" y1="523.1" x2="248.2" y2="528.1" stroke="#a349a4" stroke-width="3" stroke-linecap="round"/>
<line x1="242.3" y1="536.4" x2="247.5" y2="537.8" stroke="#a349a4" stroke-width="2.8"/>
<line x1="248.2" y1="535.3" x2="246.8" y2="540.3" stroke="#a349a4" stroke-width="3" stroke-linecap="round"/>
<line x1="237.6" y1="544.6" x2="241.4" y2="548.4" stroke="#a349a4" stroke-width="2.8"/>
<line x1="243.2" y1="546.5" x2="239.5" y2="550.2" stroke="#a349a4" stroke-width="3" stroke-linecap="round"/>
<line x1="229.4" y1="549.3" x2="230.8" y2="554.5" stroke="#a349a4" stroke-width="2.8"/>
<line x1="233.3" y1="553.8" x2="228.3" y2="555.2" stroke="#a349a4" stroke-width="3" stroke-linecap="round"/>
<line x1="220.0" y1="549.3" x2="218.6" y2="554.5" stroke="#a349a4" stroke-width="2.8"/>
<line x1="221.1" y1="555.2" x2="216.1" y2="553.8" stroke="#a349a4" stroke-width="3" stroke-linecap="round"/>
<line x1="211.8" y1="544.6" x2="208.0" y2="548.4" stroke="#a349a4" stroke-width="2.8"/>
<line x1="209.9" y1="550.2" x2="206.2" y2="546.5" stroke="#a349a4" stroke-width="3" stroke-linecap="round"/>
<line x1="207.1" y1="536.4" x2="201.9" y2="537.8" stroke="#a349a4" stroke-width="2.8"/>
<line x1="202.6" y1="540.3" x2="201.2" y2="535.3" stroke="#a349a4" stroke-width="3" stroke-linecap="round"/>
<line x1="207.1" y1="527.0" x2="201.9" y2="525.6" stroke="#a349a4" stroke-width="2.8"/>
<line x1="201.2" y1="528.1" x2="202.6" y2="523.1" stroke="#a349a4" stroke-width="3" stroke-linecap="round"/>
<line x1="211.8" y1="518.8" x2="208.0" y2="515.0" stroke="#a349a4" stroke-width="2.8"/>
<line x1="206.2" y1="516.9" x2="209.9" y2="513.2" stroke="#a349a4" stroke-width="3" stroke-linecap="round"/>
<line x1="220.0" y1="514.1" x2="218.6" y2="508.9" stroke="#a349a4" stroke-width="2.8"/>
<line x1="216.1" y1="509.6" x2="221.1" y2="508.2" stroke="#a349a4" stroke-width="3" stroke-linecap="round"/>
<circle cx="224.7" cy="531.7" r="19.2" fill="#b6da6c"/>
<path d="M224.7,512.5 A19.2 19.2 0 0 1 224.7,550.9000000000001Z" fill="#5fba62"/>
<circle cx="216.7" cy="524.7" r="0.9" fill="#2fae8e"/>
<circle cx="221.7" cy="529.7" r="0.9" fill="#2fae8e"/>
<circle cx="215.7" cy="533.7" r="0.9" fill="#2fae8e"/>
<circle cx="219.7" cy="539.7" r="0.9" fill="#2fae8e"/>
<circle cx="226.7" cy="522.7" r="0.9" fill="#2fae8e"/>
<circle cx="230.7" cy="528.7" r="0.9" fill="#2fae8e"/>
<circle cx="227.7" cy="535.7" r="0.9" fill="#2fae8e"/>
<circle cx="233.7" cy="534.7" r="0.9" fill="#2fae8e"/>
<circle cx="229.7" cy="541.7" r="0.9" fill="#2fae8e"/>
<circle cx="223.7" cy="542.7" r="0.9" fill="#2fae8e"/>
<circle cx="234.7" cy="523.7" r="0.9" fill="#2fae8e"/>
<circle cx="212.7" cy="529.7" r="0.9" fill="#2fae8e"/>
<circle cx="225.7" cy="530.7" r="0.9" fill="#2fae8e"/>
<circle cx="218.7" cy="519.7" r="0.9" fill="#2fae8e"/>
<circle cx="231.7" cy="539.7" r="0.9" fill="#2fae8e"/>
</svg>
<svg class="a" style="left:1046px;top:728px" width="154" height="66" viewBox="1046 728 154 66"><g fill="none" stroke-linecap="round" stroke-linejoin="round">
<path d="M1062.5,738 L1057,769 M1071.5,737 L1066,768 M1054,750 L1077.5,745.5 M1053,760.5 L1075,756.5" stroke="#e0922e" stroke-width="3.1"/>
<path d="M1086.5,739.5 C1081,752 1071.5,768 1068.5,774.5 C1067,779 1071.5,778 1076,773 C1084,763.5 1095,748 1099.5,740.5 C1095.5,751.5 1088.5,766 1088,772" stroke="#c2188a" stroke-width="5.4"/>
<path d="M1098,752 C1096,758 1093,765 1091.5,768.5 C1095,760 1101,752.5 1104.5,753.5 C1106.5,755.5 1102.5,762 1103,767.5" stroke="#3e6cb5" stroke-width="4.3"/>
<path d="M1123.5,751 C1120,757 1112.5,764 1113.5,767.5 C1114.5,769.5 1118,766.5 1120,764.5" stroke="#d0342c" stroke-width="4.3"/>
<path d="M1126,738.5 L1124.5,742.5" stroke="#d0342c" stroke-width="4.6"/>
<path d="M1135.5,754.5 C1130,751.5 1122,758 1122.5,764 C1123,769 1130,766 1134,759 C1139,751 1144,741 1148.5,735.5 C1144,746 1137,760 1138,765 C1139,768 1143,765 1145,762" stroke="#4fa595" stroke-width="4.5"/>
<path d="M1153,750 C1157,746 1166,745 1170,750 C1171,756 1168,762 1162,764.5 C1156,764 1152,757 1153,750 Z M1153,751 C1149,748 1146,749 1147,752 C1148,755 1151,758 1154,760 M1168,748 C1166,744 1162,743 1160,746 M1157.5,753 H1166 M1157.5,756.5 H1165.5 M1158,760 H1164" stroke="#2a9fe0" stroke-width="1.25"/>
<path d="M1189.5,739.5 C1186,743 1181,751 1178.5,757 C1174,757.5 1172,761.5 1174.5,763.3 C1179.5,764.8 1184,759 1186,752 C1188,747 1190,743 1190.8,740.3 Z" stroke="#c4161c" stroke-width="2.2" fill="#c4161c"/>
</g>
<text x="1087" y="783.5" font-family="Liberation Serif, serif" font-style="italic" font-size="17" fill="#2f3b4d" stroke="#2f3b4d" stroke-width="0.35" textLength="91.5" lengthAdjust="spacingAndGlyphs">ContraElCovid</text>
</svg>
<!-- TEXTS -->
<span class="t" style="left:96.87px;top:47.87px;font-size:7.75px;color:#666769;font-family:'Liberation Sans', sans-serif;font-weight:bold;font-style:normal;transform:scaleX(0.9852);">ESTADO PLURINACIONAL DE</span>
<span class="t" style="left:98.10px;top:52.44px;font-size:27.85px;color:#58595b;font-family:'Liberation Serif', serif;font-weight:bold;font-style:normal;transform:scaleX(0.9226);-webkit-text-stroke:0.55px #58595b">BOLIVIA</span>
<span class="t" style="left:229.73px;top:55.46px;font-size:12.54px;color:#58595b;font-family:'Liberation Sans', sans-serif;font-weight:normal;font-style:normal;transform:scaleX(0.8663);">MINISTERIO DE</span>
<span class="t" style="left:229.96px;top:66.40px;font-size:12.39px;color:#58595b;font-family:'Liberation Sans', sans-serif;font-weight:normal;font-style:normal;transform:scaleX(0.8644);">SALUD Y DEPORTES</span>
<span class="t" style="left:415.35px;top:25.14px;font-size:40.00px;color:#fff;font-family:'Liberation Sans', sans-serif;font-weight:bold;font-style:italic;word-spacing:0.12em;transform:scaleX(1.0707);">REPORTE COVID-19 EN BOLIVIA</span>
<span class="t" style="left:495.69px;top:70.86px;font-size:31.16px;color:#fff;font-family:'Liberation Sans', sans-serif;font-weight:bold;font-style:italic;transform:scaleX(1.0750);">Jueves, 11 de noviembre de 2021</span>
<span class="t" style="left:1112.18px;top:84.20px;font-size:22.96px;color:#fff;font-family:'Liberation Sans', sans-serif;font-weight:bold;font-style:italic;transform:scaleX(1.1048);">Nº 606</span>
<span class="t" style="left:548.41px;top:130.21px;font-size:31.41px;color:#fff;font-family:'Liberation Sans', sans-serif;font-weight:bold;font-style:italic;transform:scaleX(1.0497);">367</span>
<span class="t" style="left:640.80px;top:130.38px;font-size:31.01px;color:#0a6aa6;font-family:'Liberation Sans', sans-serif;font-weight:bold;font-style:italic;transform:scaleX(1.0361);">Recuperados</span>
<span class="t" style="left:927.47px;top:128.99px;font-size:33.80px;color:#fff;font-family:'Liberation Sans', sans-serif;font-weight:bold;font-style:italic;transform:scaleX(1.1338);">965</span>
<span class="t" style="left:1035.37px;top:130.56px;font-size:34.78px;color:#e8403f;font-family:'Liberation Sans', sans-serif;font-weight:bold;font-style:italic;transform:scaleX(1.0199);">Casos</span>
<span class="t" style="left:522.45px;top:175.65px;font-size:22.96px;color:#e2562f;font-family:'Liberation Sans', sans-serif;font-weight:normal;font-style:italic;transform:scaleX(1.2469);-webkit-text-stroke:0.7px #e2562f">PANDO</span>
<span class="t" style="left:487.21px;top:209.66px;font-size:24.08px;color:#1d1d1b;font-family:'Liberation Sans', sans-serif;font-weight:bold;font-style:italic;transform:scaleX(1.4214);">0</span>
<span class="t" style="left:510.77px;top:217.84px;font-size:13.48px;color:#1d1d1b;font-family:'Liberation Sans', sans-serif;font-weight:bold;font-style:italic;transform:scaleX(1.0768);">Recuperados</span>
<span class="t" style="left:476.80px;top:280.08px;font-size:22.61px;color:#e2562f;font-family:'Liberation Sans', sans-serif;font-weight:normal;font-style:italic;transform:scaleX(1.0900);-webkit-text-stroke:0.7px #e2562f">LA PAZ</span>
<span class="t" style="left:479.11px;top:311.66px;font-size:25.07px;color:#1d1d1b;font-family:'Liberation Sans', sans-serif;font-weight:bold;font-style:italic;transform:scaleX(1.2281);">58</span>
<span class="t" style="left:516.63px;top:321.23px;font-size:13.62px;color:#1d1d1b;font-family:'Liberation Sans', sans-serif;font-weight:bold;font-style:italic;transform:scaleX(1.0588);">Recuperados</span>
<span class="t" style="left:428.16px;top:384.43px;font-size:21.41px;color:#e2562f;font-family:'Liberation Sans', sans-serif;font-weight:normal;font-style:italic;transform:scaleX(1.1092);-webkit-text-stroke:0.7px #e2562f">COCHABAMBA</span>
<span class="t" style="left:440.09px;top:415.31px;font-size:25.77px;color:#1d1d1b;font-family:'Liberation Sans', sans-serif;font-weight:bold;font-style:italic;transform:scaleX(1.1261);">106</span>
<span class="t" style="left:492.21px;top:426.51px;font-size:13.91px;color:#1d1d1b;font-family:'Liberation Sans', sans-serif;font-weight:bold;font-style:italic;transform:scaleX(1.0427);">Recuperados</span>
<span class="t" style="left:491.53px;top:496.53px;font-size:21.41px;color:#e2562f;font-family:'Liberation Sans', sans-serif;font-weight:normal;font-style:italic;transform:scaleX(1.1663);-webkit-text-stroke:0.7px #e2562f">ORURO</span>
<span class="t" style="left:515.32px;top:527.77px;font-size:25.29px;color:#1d1d1b;font-family:'Liberation Sans', sans-serif;font-weight:bold;font-style:italic;transform:scaleX(1.1672);">5</span>
<span class="t" style="left:535.82px;top:537.64px;font-size:13.48px;color:#1d1d1b;font-family:'Liberation Sans', sans-serif;font-weight:bold;font-style:italic;transform:scaleX(1.0787);">Recuperados</span>
<span class="t" style="left:519.18px;top:586.64px;font-size:22.03px;color:#e2562f;font-family:'Liberation Sans', sans-serif;font-weight:normal;font-style:italic;transform:scaleX(1.0622);-webkit-text-stroke:0.7px #e2562f">POTOSÍ</span>
<span class="t" style="left:537.42px;top:617.80px;font-size:24.51px;color:#1d1d1b;font-family:'Liberation Sans', sans-serif;font-weight:bold;font-style:italic;transform:scaleX(1.2278);">31</span>
<span class="t" style="left:574.81px;top:627.01px;font-size:13.33px;color:#1d1d1b;font-family:'Liberation Sans', sans-serif;font-weight:bold;font-style:italic;transform:scaleX(1.0926);">Recuperados</span>
<span class="t" style="left:893.84px;top:196.76px;font-size:23.77px;color:#e2562f;font-family:'Liberation Sans', sans-serif;font-weight:normal;font-style:italic;transform:scaleX(1.1792);-webkit-text-stroke:0.7px #e2562f">BENI</span>
<span class="t" style="left:927.44px;top:227.72px;font-size:24.51px;color:#1d1d1b;font-family:'Liberation Sans', sans-serif;font-weight:bold;font-style:italic;transform:scaleX(1.3303);">0</span>
<span class="t" style="left:948.61px;top:235.64px;font-size:13.33px;color:#1d1d1b;font-family:'Liberation Sans', sans-serif;font-weight:bold;font-style:italic;transform:scaleX(1.0884);">Recuperados</span>
<span class="t" style="left:960.66px;top:307.65px;font-size:22.11px;color:#e2562f;font-family:'Liberation Sans', sans-serif;font-weight:normal;font-style:italic;transform:scaleX(1.2037);-webkit-text-stroke:0.7px #e2562f">SANTA CRUZ</span>
<span class="t" style="left:974.68px;top:338.26px;font-size:25.21px;color:#1d1d1b;font-family:'Liberation Sans', sans-serif;font-weight:bold;font-style:italic;transform:scaleX(1.1554);">109</span>
<span class="t" style="left:1029.76px;top:348.10px;font-size:14.06px;color:#1d1d1b;font-family:'Liberation Sans', sans-serif;font-weight:bold;font-style:italic;transform:scaleX(1.0382);">Recuperados</span>
<span class="t" style="left:920.87px;top:531.01px;font-size:23.33px;color:#e2562f;font-family:'Liberation Sans', sans-serif;font-weight:normal;font-style:italic;transform:scaleX(1.1009);-webkit-text-stroke:0.7px #e2562f">CHUQUISACA</span>
<span class="t" style="left:979.79px;top:559.51px;font-size:25.71px;color:#1d1d1b;font-family:'Liberation Sans', sans-serif;font-weight:bold;font-style:italic;transform:scaleX(1.1371);">24</span>
<span class="t" style="left:1018.83px;top:570.28px;font-size:13.62px;color:#1d1d1b;font-family:'Liberation Sans', sans-serif;font-weight:bold;font-style:italic;transform:scaleX(1.0588);">Recuperados</span>
<span class="t" style="left:845.15px;top:605.98px;font-size:23.57px;color:#e2562f;font-family:'Liberation Sans', sans-serif;font-weight:normal;font-style:italic;transform:scaleX(1.1751);-webkit-text-stroke:0.7px #e2562f">TARIJA</span>
<span class="t" style="left:853.69px;top:635.98px;font-size:26.06px;color:#1d1d1b;font-family:'Liberation Sans', sans-serif;font-weight:bold;font-style:italic;transform:scaleX(1.1570);">34</span>
<span class="t" style="left:894.37px;top:646.49px;font-size:13.62px;color:#1d1d1b;font-family:'Liberation Sans', sans-serif;font-weight:bold;font-style:italic;transform:scaleX(1.0707);">Recuperados</span>
<span class="t" style="left:440.50px;top:671.67px;font-size:21.01px;color:#fff;font-family:'Liberation Sans', sans-serif;font-weight:normal;font-style:normal;transform:scaleX(0.9348);">CASOS por departamento</span>
<span class="t" style="left:439.61px;top:703.88px;font-size:22.61px;color:#e0623a;font-family:'Liberation Sans', sans-serif;font-weight:bold;font-style:italic;transform:scaleX(1.0582);">LA PAZ</span>
<span class="t" style="left:540.12px;top:700.61px;font-size:26.09px;color:#1d1d1b;font-family:'Liberation Sans', sans-serif;font-weight:bold;font-style:italic;transform:scaleX(1.0387);">144</span>
<span class="t" style="left:600.35px;top:704.31px;font-size:21.97px;color:#e0623a;font-family:'Liberation Sans', sans-serif;font-weight:bold;font-style:italic;transform:scaleX(1.1101);">COCHABAMBA</span>
<span class="t" style="left:788.33px;top:702.28px;font-size:25.71px;color:#1d1d1b;font-family:'Liberation Sans', sans-serif;font-weight:bold;font-style:italic;transform:scaleX(1.0729);">155</span>
<span class="t" style="left:857.28px;top:703.57px;font-size:21.97px;color:#e0623a;font-family:'Liberation Sans', sans-serif;font-weight:bold;font-style:italic;transform:scaleX(1.0978);">SANTA CRUZ</span>
<span class="t" style="left:1019.99px;top:702.03px;font-size:25.35px;color:#1d1d1b;font-family:'Liberation Sans', sans-serif;font-weight:bold;font-style:italic;transform:scaleX(1.1091);">473</span>
<span class="t" style="left:438.07px;top:737.70px;font-size:22.61px;color:#e0623a;font-family:'Liberation Sans', sans-serif;font-weight:bold;font-style:italic;transform:scaleX(1.0350);">POTOSÍ</span>
<span class="t" style="left:540.59px;top:736.38px;font-size:24.51px;color:#1d1d1b;font-family:'Liberation Sans', sans-serif;font-weight:bold;font-style:italic;transform:scaleX(1.0843);">26</span>
<span class="t" style="left:600.44px;top:738.35px;font-size:22.61px;color:#e0623a;font-family:'Liberation Sans', sans-serif;font-weight:bold;font-style:italic;transform:scaleX(1.0582);">CHUQUISACA</span>
<span class="t" style="left:769.39px;top:736.11px;font-size:24.86px;color:#1d1d1b;font-family:'Liberation Sans', sans-serif;font-weight:bold;font-style:italic;transform:scaleX(1.1526);">72</span>
<span class="t" style="left:857.06px;top:736.53px;font-size:22.61px;color:#e0623a;font-family:'Liberation Sans', sans-serif;font-weight:bold;font-style:italic;transform:scaleX(1.0537);">BENI</span>
<span class="t" style="left:923.70px;top:736.20px;font-size:24.37px;color:#1d1d1b;font-family:'Liberation Sans', sans-serif;font-weight:bold;font-style:italic;transform:scaleX(1.1229);">3</span>
<span class="t" style="left:435.50px;top:768.37px;font-size:21.97px;color:#e0623a;font-family:'Liberation Sans', sans-serif;font-weight:bold;font-style:italic;transform:scaleX(1.0816);">ORURO</span>
<span class="t" style="left:540.10px;top:769.64px;font-size:25.35px;color:#1d1d1b;font-family:'Liberation Sans', sans-serif;font-weight:bold;font-style:italic;transform:scaleX(1.0584);">19</span>
<span class="t" style="left:600.24px;top:771.53px;font-size:22.14px;color:#e0623a;font-family:'Liberation Sans', sans-serif;font-weight:bold;font-style:italic;transform:scaleX(1.0982);">TARIJA</span>
<span class="t" style="left:702.40px;top:769.78px;font-size:25.71px;color:#1d1d1b;font-family:'Liberation Sans', sans-serif;font-weight:bold;font-style:italic;transform:scaleX(1.1113);">72</span>
<span class="t" style="left:857.03px;top:767.75px;font-size:21.41px;color:#e0623a;font-family:'Liberation Sans', sans-serif;font-weight:bold;font-style:italic;transform:scaleX(1.1322);">PANDO</span>
<span class="t" style="left:957.70px;top:765.87px;font-size:25.22px;color:#1d1d1b;font-family:'Liberation Sans', sans-serif;font-weight:bold;font-style:italic;transform:scaleX(0.9623);">1</span>
<span class="t" style="left:60.97px;top:148.16px;font-size:18.73px;color:#fff;font-family:'Liberation Sans', sans-serif;font-weight:normal;font-style:normal;transform:scaleX(1.0311);">TOTAL</span>
<span class="t" style="left:61.46px;top:172.28px;font-size:18.17px;color:#fff;font-family:'Liberation Sans', sans-serif;font-weight:normal;font-style:normal;transform:scaleX(1.0581);">CASOS</span>
<span class="t" style="left:35.31px;top:203.83px;font-size:27.89px;color:#10281b;font-family:'Liberation Sans', sans-serif;font-weight:bold;font-style:italic;transform:scaleX(1.1725);">521.518</span>
<span class="t" style="left:215.22px;top:148.37px;font-size:19.58px;color:#fff;font-family:'Liberation Sans', sans-serif;font-weight:normal;font-style:normal;transform:scaleX(0.9891);">DESCARTADOS</span>
<span class="t" style="left:215.83px;top:180.11px;font-size:27.61px;color:#10281b;font-family:'Liberation Sans', sans-serif;font-weight:bold;font-style:italic;transform:scaleX(1.1648);">2.150.316</span>
<span class="t" style="left:208.94px;top:233.66px;font-size:26.06px;color:#fff;font-family:'Liberation Sans', sans-serif;font-weight:bold;font-style:normal;word-spacing:0.14em;transform:scaleX(1.0074);">HOY + 5.809</span>
<span class="t" style="left:143.03px;top:291.75px;font-size:27.04px;color:#fff;font-family:'Liberation Sans', sans-serif;font-weight:normal;font-style:normal;transform:scaleX(1.0357);">TOTAL</span>
<span class="t" style="left:80.43px;top:321.92px;font-size:27.61px;color:#fff;font-family:'Liberation Sans', sans-serif;font-weight:normal;font-style:normal;transform:scaleX(0.9712);">RECUPERADOS</span>
<span class="t" style="left:106.27px;top:362.65px;font-size:42.25px;color:#10281b;font-family:'Liberation Sans', sans-serif;font-weight:bold;font-style:italic;transform:scaleX(1.1060);">481.256</span>
<span class="t" style="left:25.72px;top:474.06px;font-size:20.28px;color:#fff;font-family:'Liberation Sans', sans-serif;font-weight:normal;font-style:normal;transform:scaleX(0.9333);">TOTAL DECESOS</span>
<span class="t" style="left:54.05px;top:500.86px;font-size:31.27px;color:#10281b;font-family:'Liberation Sans', sans-serif;font-weight:bold;font-style:italic;transform:scaleX(1.0418);">18.998</span>
<span class="t" style="left:43.51px;top:546.35px;font-size:25.49px;color:#1d1d1b;font-family:'Liberation Sans', sans-serif;font-weight:normal;font-style:italic;transform:scaleX(1.0209);">HOY +</span>
<span class="t" style="left:132.25px;top:547.11px;font-size:25.63px;color:#1d1d1b;font-family:'Liberation Sans', sans-serif;font-weight:bold;font-style:italic;transform:scaleX(1.0599);">13</span>
<span class="t" style="left:264.56px;top:460.51px;font-size:17.61px;color:#fff;font-family:'Liberation Sans', sans-serif;font-weight:normal;font-style:normal;transform:scaleX(1.0967);">ACTIVOS</span>
<span class="t" style="left:259.28px;top:494.82px;font-size:29.72px;color:#10281b;font-family:'Liberation Sans', sans-serif;font-weight:bold;font-style:italic;transform:scaleX(1.0944);">21.264</span>
<span class="t" style="left:106.78px;top:616.41px;font-size:21.41px;color:#fff;font-family:'Liberation Sans', sans-serif;font-weight:normal;font-style:normal;transform:scaleX(0.9338);">TASA DE LETALIDAD</span>
<span class="t" style="left:107.98px;top:663.25px;font-size:22.03px;color:#1d1d1b;font-family:'Liberation Sans', sans-serif;font-weight:bold;font-style:italic;transform:scaleX(1.2102);">1ra. OLA 6,2%</span>
<span class="t" style="left:109.22px;top:694.16px;font-size:23.04px;color:#1d1d1b;font-family:'Liberation Sans', sans-serif;font-weight:bold;font-style:italic;transform:scaleX(1.1539);">2da. OLA 2,7%</span>
<span class="t" style="left:107.80px;top:725.11px;font-size:22.61px;color:#1d1d1b;font-family:'Liberation Sans', sans-serif;font-weight:bold;font-style:italic;transform:scaleX(1.1812);">3ra. OLA 2,8%</span>
<span class="t" style="left:108.69px;top:755.61px;font-size:23.04px;color:#1d1d1b;font-family:'Liberation Sans', sans-serif;font-weight:bold;font-style:italic;transform:scaleX(1.1613);">4ta. OLA 0,8%</span>
</body></html>
